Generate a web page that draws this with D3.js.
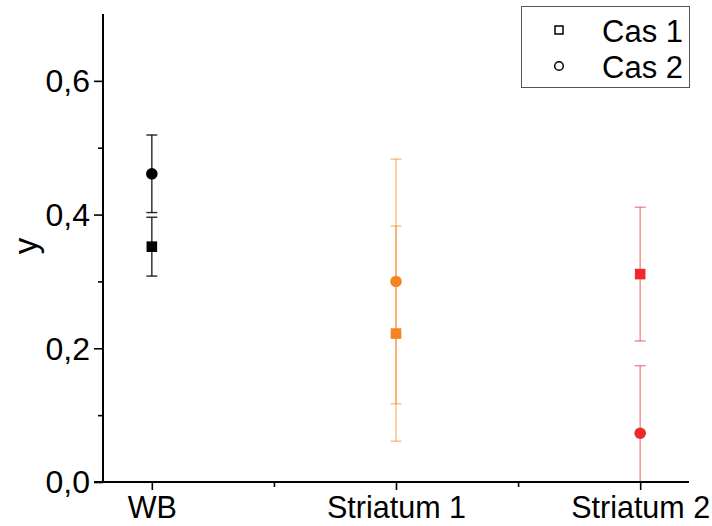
<!DOCTYPE html>
<html><head><meta charset="utf-8">
<script src="https://cdn.jsdelivr.net/npm/d3@7"></script>
<style>html,body{margin:0;padding:0;background:#fff;}svg{display:block;font-family:"Liberation Sans",Arial,sans-serif;}</style>
</head><body><svg id="c" width="712" height="526"></svg>
<script>
const categories = ["WB", "Striatum 1", "Striatum 2"];
const catColors = ["#000000", "#F5841F", "#EE2A2A"];
const cas1 = [0.352, 0.222, 0.311];
const cas1Err = [0.044, 0.161, 0.100];
const cas2 = [0.461, 0.300, 0.073];
const cas2Err = [0.058, 0.183, 0.101];
const yTicks = [0, 0.2, 0.4, 0.6];
const yMinor = [0.1, 0.3, 0.5];
const xMinor = [1.5, 2.5];
const legendLabels = ["Cas 1", "Cas 2"];

const svg = d3.select("#c");
const x = d3.scaleLinear().domain([0.8, 3.2]).range([103, 689]);
const y = d3.scaleLinear().domain([0, 0.7]).range([482, 14]);
const fmt = d => d3.format(".1f")(d).replace(".", ",");

svg.append("defs").append("clipPath").attr("id", "pc")
  .append("rect").attr("x", 103).attr("y", 14).attr("width", 586).attr("height", 468);

const series = [
  {vals: cas1, errs: cas1Err, shape: "square"},
  {vals: cas2, errs: cas2Err, shape: "circle"}
];
const gErr = svg.append("g").attr("clip-path", "url(#pc)");
series.forEach(s => {
  s.vals.forEach((v, i) => {
    const cx = x(i + 1);
    const col = catColors[i];
    const op = i === 0 ? 0.85 : 0.55;
    const g = gErr.append("g").attr("stroke", col).attr("stroke-opacity", op).attr("stroke-width", 1.4);
    g.append("line").attr("x1", cx).attr("x2", cx).attr("y1", y(v + s.errs[i])).attr("y2", y(v - s.errs[i]));
    [v + s.errs[i], v - s.errs[i]].forEach(e => {
      g.append("line").attr("x1", cx - 5.5).attr("x2", cx + 5.5).attr("y1", y(e)).attr("y2", y(e));
    });
  });
});

series.forEach(s => {
  s.vals.forEach((v, i) => {
    const cx = x(i + 1), cy = y(v);
    if (s.shape === "square") {
      svg.append("rect").attr("x", cx - 5.3).attr("y", cy - 5.3).attr("width", 10.6).attr("height", 10.6).attr("fill", catColors[i]);
    } else {
      svg.append("circle").attr("cx", cx).attr("cy", cy).attr("r", 5.8).attr("fill", catColors[i]);
    }
  });
});

const yAxis = svg.append("g").attr("transform", "translate(103,0)")
  .call(d3.axisLeft(y).tickValues(yTicks).tickFormat(fmt).tickSize(9).tickPadding(4));
svg.append("g").attr("transform", "translate(103,0)")
  .call(d3.axisLeft(y).tickValues(yMinor).tickFormat("").tickSize(5))
  .select(".domain").remove();
const xAxis = svg.append("g").attr("transform", "translate(0,482)")
  .call(d3.axisBottom(x).tickValues([1, 2, 3]).tickFormat((d) => categories[d - 1]).tickSize(8).tickPadding(6));
svg.append("g").attr("transform", "translate(0,482)")
  .call(d3.axisBottom(x).tickValues(xMinor).tickFormat("").tickSize(5))
  .select(".domain").remove();
svg.selectAll(".domain").attr("stroke-width", 2);
yAxis.select(".domain").attr("d", "M0,14V482");
xAxis.select(".domain").attr("d", "M94,0H689");
svg.selectAll(".tick line").attr("stroke-width", 1.6).attr("stroke", "#000");
svg.selectAll(".domain").attr("stroke", "#000");
svg.selectAll(".tick text").attr("fill", "#000").attr("font-family", "'Liberation Sans',Arial,sans-serif");
yAxis.selectAll(".tick text").attr("font-size", 32).attr("dy", "0.34em");
xAxis.selectAll(".tick text").attr("font-size", 30.5);

svg.append("text").attr("transform", "translate(37,246) rotate(-90)")
  .attr("text-anchor", "middle").attr("font-size", 33).text("y");

const lg = svg.append("g");
lg.append("rect").attr("x", 521.5).attr("y", 6.5).attr("width", 168).attr("height", 81)
  .attr("fill", "#fff").attr("stroke", "#555").attr("stroke-width", 1);
legendLabels.forEach((l, i) => {
  const ly = 30 + i * 36;
  if (i === 0) lg.append("rect").attr("x", 559 - 4).attr("y", ly - 4).attr("width", 8).attr("height", 8)
    .attr("fill", "none").attr("stroke", "#000").attr("stroke-width", 1.5);
  else lg.append("circle").attr("cx", 559).attr("cy", ly).attr("r", 4.3)
    .attr("fill", "none").attr("stroke", "#000").attr("stroke-width", 1.5);
  lg.append("text").attr("x", 602).attr("y", ly + 11.5).attr("font-size", 31).text(l);
});
</script></body></html>
